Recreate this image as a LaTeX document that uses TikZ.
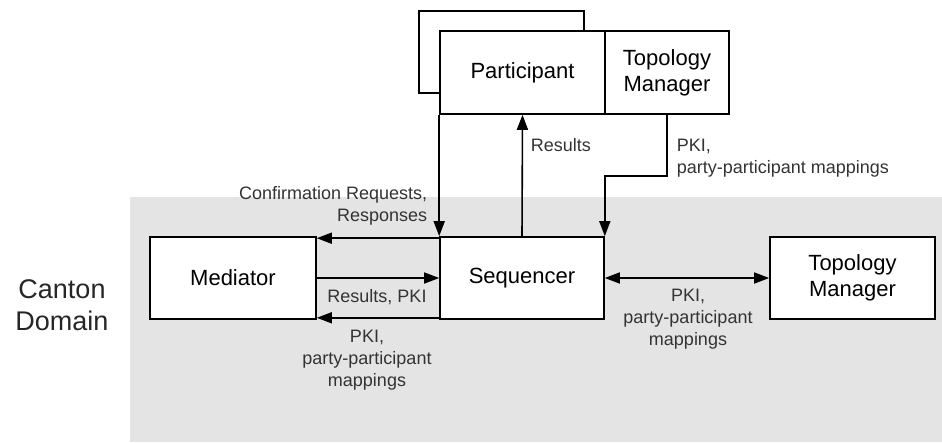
\documentclass[tikz,border=0pt]{standalone}
\usepackage{fontspec}
\setmainfont{Liberation Sans}
\usetikzlibrary{arrows.meta,calc}
\definecolor{domaingray}{HTML}{E4E4E4}
\definecolor{labelgray}{HTML}{333333}

\begin{document}
\begin{tikzpicture}[x=1pt, y=-1pt, >={Triangle[length=15pt, width=11pt]}, line width=1.6pt]

% Boxes and edge labels
\tikzstyle{block} = [draw, fill=white, rectangle, line width=1.6pt, inner sep=0pt, align=center, minimum height=82pt, font=\fontsize{22}{26}\selectfont]
\tikzstyle{lbl} = [inner sep=0pt, text=labelgray, font=\fontsize{18}{22}\selectfont]

\useasboundingbox (0,0) rectangle (942,442);

% Domain background
\fill[domaingray] (130,197) rectangle (942,442);
\node[font=\fontsize{27}{32}\selectfont, align=center, text=black!85] (domain) at (62,305) {Canton\\Domain};

% Top Nodes
\node[block, minimum width=165pt] (shadow) at (501.5,52) {};
\node[block, minimum width=165pt, minimum height=83pt] (part) at (522.5,72.5) {Participant};
\node[block, minimum width=124pt, minimum height=83pt] (topoP) at (667,72.5) {Topology\\Manager};

% Domain Nodes
\node[block, minimum width=166pt] (med) at (233,278) {Mediator};
\node[block, minimum width=164pt] (seq) at (522,278) {Sequencer};
\node[block, minimum width=165pt] (topoD) at (852.5,278) {Topology\\Manager};

% Participant <-> Sequencer
\draw[->] (part.south west) -- (seq.north west);
\draw[->] (seq.north) -- (part.south);
\node[lbl, anchor=west] (resP) at (530,145) {Results};

% Topology Manager -> Sequencer
\coordinate (bend) at (667,176);
\draw[->] (topoP.south) -- (bend) -| (seq.north east);
\node[lbl, anchor=west, align=left] (pkiP) at (676,158) {PKI,\\party-participant mappings};

% Sequencer <-> Mediator
\draw[->] ([yshift=-2pt]seq.north west) -- ([yshift=-2pt]med.north east);
\node[lbl, anchor=east, align=right] (conf) at (428,206) {Confirmation Requests,\\Responses};
\draw[->] (med.east) -- (seq.west);
\node[lbl] (resM) at (377,297) {Results, PKI};
\draw[->] ([yshift=2pt]seq.south west) -- ([yshift=2pt]med.south east);
\node[lbl, align=center] (pkiM) at (367,360) {PKI,\\party-participant\\mappings};

% Sequencer <-> Topology Manager
\draw[<->] (seq.east) -- (topoD.west);
\node[lbl, align=center] (pkiD) at (688,319) {PKI,\\party-participant\\mappings};

\end{tikzpicture}
\end{document}
